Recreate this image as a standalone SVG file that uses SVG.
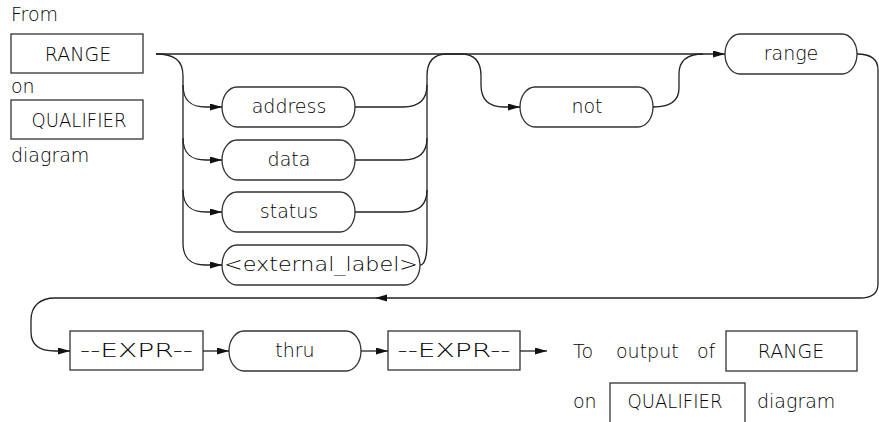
<svg xmlns="http://www.w3.org/2000/svg" width="879" height="422" viewBox="0 0 879 422">
<style>
text{font-family:"DejaVu Sans","Liberation Sans",sans-serif;font-size:19px;fill:#000;font-weight:200}
.c{text-anchor:middle}
.box{fill:none;stroke:#333;stroke-width:1.3}
.ln{fill:none;stroke:#222;stroke-width:1.3}
</style>
<defs>
<marker id="ah" markerUnits="userSpaceOnUse" markerWidth="13" markerHeight="8" refX="12" refY="3.5" orient="auto">
<path d="M0,0 L12,3.5 L0,7 z" fill="#111"/>
</marker>
</defs>
<text x="11" y="21">From</text>
<text x="11" y="93">on</text>
<text x="11" y="162">diagram</text>
<g id="n_range_src"><rect class="box" x="11" y="34" width="132" height="39"/><text class="c" x="78" y="61">RANGE</text></g>
<g id="n_qual_src"><rect class="box" x="11" y="100" width="132" height="39"/><text class="c" x="79" y="127" textLength="95" lengthAdjust="spacingAndGlyphs">QUALIFIER</text></g>
<g id="n_address"><rect class="box" x="222" y="87" width="133" height="40" rx="15" ry="20"/><text class="c" x="289" y="113">address</text></g>
<g id="n_data"><rect class="box" x="222" y="140" width="133" height="40" rx="15" ry="20"/><text class="c" x="289" y="166">data</text></g>
<g id="n_status"><rect class="box" x="222" y="192" width="133" height="40" rx="15" ry="20"/><text class="c" x="289" y="218">status</text></g>
<g id="n_external"><rect class="box" x="222" y="245" width="198" height="40" rx="15" ry="20"/><text class="c" x="321" y="271" textLength="194" lengthAdjust="spacingAndGlyphs">&lt;external_label&gt;</text></g>
<g id="n_not"><rect class="box" x="520" y="87" width="133" height="40" rx="15" ry="20"/><text class="c" x="587" y="113">not</text></g>
<g id="n_range"><rect class="box" x="725" y="34" width="132" height="40" rx="15" ry="20"/><text class="c" x="791" y="60">range</text></g>
<g id="n_expr1"><rect class="box" x="70" y="331" width="133" height="39"/><text class="c" x="136.5" y="357" textLength="113" lengthAdjust="spacingAndGlyphs">--EXPR--</text></g>
<g id="n_thru"><rect class="box" x="229" y="331" width="132" height="40" rx="15" ry="20"/><text class="c" x="295" y="357">thru</text></g>
<g id="n_expr2"><rect class="box" x="388" y="331" width="132" height="39"/><text class="c" x="454" y="357" textLength="113" lengthAdjust="spacingAndGlyphs">--EXPR--</text></g>
<g id="n_out">
<text x="573" y="358">To <tspan x="616">output</tspan> <tspan x="697">of</tspan></text>
<rect class="box" x="726" y="331" width="131" height="40"/><text class="c" x="791" y="358">RANGE</text>
<text x="573" y="408">on</text>
<rect class="box" x="610" y="383" width="135" height="40"/><text class="c" x="675" y="408" textLength="95" lengthAdjust="spacingAndGlyphs">QUALIFIER</text>
<text x="757" y="408">diagram</text>
</g>
<g id="connectors">
<path class="ln" d="M156,54 H725" marker-end="url(#ah)"/>
<path class="ln" d="M156,54 C174,54 183,60 183,76 V243"/>
<path class="ln" d="M183,85 C183,100 190,107 206,107 H222" marker-end="url(#ah)"/>
<path class="ln" d="M183,138 C183,153 190,160 206,160 H222" marker-end="url(#ah)"/>
<path class="ln" d="M183,190 C183,205 190,212 206,212 H222" marker-end="url(#ah)"/>
<path class="ln" d="M183,243 C183,258 190,265 206,265 H222" marker-end="url(#ah)"/>
<path class="ln" d="M355,107 H403 C419,107 427,100 427,85"/>
<path class="ln" d="M355,160 H403 C419,160 427,153 427,138"/>
<path class="ln" d="M355,212 H403 C419,212 427,205 427,190"/>
<path class="ln" d="M420,265 C424,265 427,258 427,243 V76 C427,61 434,54 447,54 H461 C474,54 481,61 481,76 V85 C481,100 489,107 504,107 H520" marker-end="url(#ah)"/>
<path class="ln" d="M653,107 C671,107 679,100 679,88 V74 C679,61 687,54 703,54"/>
<path class="ln" d="M857,54 C870,54 878,58 878,70 V284 C878,293 872,298 860,298 H375" marker-end="url(#ah)"/>
<path class="ln" d="M375,298 H55 C40,298 31,306 31,320 V332 C31,344 39,351 55,351 H70" marker-end="url(#ah)"/>
<path class="ln" d="M203,351 H229" marker-end="url(#ah)"/>
<path class="ln" d="M361,351 H388" marker-end="url(#ah)"/>
<path class="ln" d="M520,351 H547" marker-end="url(#ah)"/>
</g>
</svg>
